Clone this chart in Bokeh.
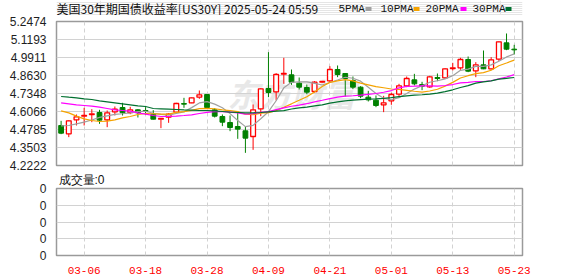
from bokeh.plotting import figure
from bokeh.models import ColumnDataSource, Range1d, FixedTicker, PrintfTickFormatter, Title
from bokeh.core.properties import value
from bokeh.layouts import column
from bokeh.embed import file_html
from bokeh.resources import INLINE

# ---------------- data ----------------
dates = [
    "03-03", "03-04", "03-05", "03-06", "03-07",
    "03-10", "03-11", "03-12", "03-13", "03-14",
    "03-17", "03-18", "03-19", "03-20", "03-21",
    "03-24", "03-25", "03-26", "03-27", "03-28",
    "03-31", "04-01", "04-02", "04-03", "04-04",
    "04-07", "04-08", "04-09", "04-10", "04-11",
    "04-14", "04-15", "04-16", "04-17", "04-18",
    "04-21", "04-22", "04-23", "04-24", "04-25",
    "04-28", "04-29", "04-30", "05-01", "05-02",
    "05-05", "05-06", "05-07", "05-08", "05-09",
    "05-12", "05-13", "05-14", "05-15", "05-16",
    "05-19", "05-20", "05-21", "05-22", "05-23",
]
opens = [4.5070, 4.4477, 4.5473, 4.5734, 4.5853, 4.5996, 4.5473, 4.6043, 4.6352, 4.5996,
         4.6185, 4.6138, 4.5877, 4.5521, 4.5663, 4.6020, 4.6637, 4.6684, 4.7087, 4.7277,
         4.6185, 4.5711, 4.5284, 4.4999, 4.4691, 4.4287, 4.6257, 4.7704, 4.7467, 4.8725,
         4.8677, 4.8084, 4.7775, 4.7491, 4.8155, 4.8250, 4.9057, 4.8772, 4.8274, 4.7799,
         4.7087, 4.6874, 4.6542, 4.6826, 4.7301, 4.7894, 4.8321, 4.7989, 4.7823, 4.8487,
         4.8463, 4.9128, 4.9175, 4.9769, 4.8962, 4.9389, 4.9104, 4.9793, 5.0955, 5.0504]
highs = [4.5402, 4.5450, 4.5853, 4.6328, 4.6233, 4.6185, 4.6138, 4.6423, 4.6684, 4.6399,
         4.6233, 4.6375, 4.6162, 4.5592, 4.5948, 4.6684, 4.7040, 4.7063, 4.7562, 4.7301,
         4.6304, 4.5853, 4.5782, 4.6090, 4.4999, 4.6565, 4.7728, 5.0291, 4.8796, 4.9888,
         4.9057, 4.8487, 4.7989, 4.8226, 4.8226, 4.9294, 4.9342, 4.8796, 4.8558, 4.7870,
         4.7538, 4.7206, 4.7182, 4.7396, 4.8036, 4.8558, 4.8748, 4.8179, 4.8606, 4.8772,
         4.9152, 4.9532, 4.9888, 4.9982, 4.9579, 5.0409, 4.9935, 5.1050, 5.1620, 5.0813]
lows = [4.4453, 4.4240, 4.5070, 4.5070, 4.5307, 4.5189, 4.4951, 4.5782, 4.5782, 4.5877,
        4.5640, 4.5830, 4.5497, 4.4880, 4.5260, 4.5972, 4.6328, 4.6660, 4.6969, 4.6257,
        4.5640, 4.5023, 4.4667, 4.4120, 4.3124, 4.3338, 4.5734, 4.7087, 4.6850, 4.8036,
        4.7965, 4.7633, 4.7301, 4.7420, 4.8131, 4.8179, 4.8511, 4.7135, 4.7657, 4.7016,
        4.6780, 4.6375, 4.6020, 4.6542, 4.7110, 4.7799, 4.7918, 4.7586, 4.7752, 4.8226,
        4.8392, 4.8986, 4.9033, 4.8867, 4.8511, 4.9081, 4.9057, 4.9674, 5.0433, 5.0125]
closes = [4.4524, 4.5402, 4.5687, 4.5782, 4.5901, 4.5450, 4.5972, 4.6233, 4.5972, 4.6185,
          4.5972, 4.6067, 4.5521, 4.5568, 4.5877, 4.6637, 4.6589, 4.7040, 4.7253, 4.6352,
          4.5734, 4.5307, 4.4928, 4.4810, 4.4169, 4.6185, 4.7680, 4.7420, 4.8701, 4.8772,
          4.8155, 4.7799, 4.7443, 4.8155, 4.8202, 4.9057, 4.8701, 4.8416, 4.7799, 4.7158,
          4.6897, 4.6494, 4.6684, 4.7277, 4.7894, 4.8416, 4.8036, 4.7870, 4.8535, 4.8416,
          4.9104, 4.9175, 4.9769, 4.8938, 4.9389, 4.9104, 4.9745, 5.1027, 5.0504, 5.0457]
volumes = [0] * 60

# moving-average values before enough closes are on screen
ma5_head = [4.5047, 4.5070, 4.5189, 4.5307]
ma10_head = [4.6115, 4.5972, 4.5734, 4.5545, 4.5426, 4.5355, 4.5379, 4.5474, 4.5616]
ma20_head = [4.6684, 4.6613, 4.6541, 4.6494, 4.6446, 4.6375, 4.6280, 4.6185, 4.6138, 4.6090,
             4.5972, 4.5877, 4.5782, 4.5711, 4.5711, 4.5735, 4.5782, 4.5830, 4.5924]
ma30_head = [4.7135, 4.7087, 4.7040, 4.6969, 4.6921, 4.6826, 4.6755, 4.6684, 4.6613, 4.6541,
             4.6470, 4.6423, 4.6280, 4.6257, 4.6233, 4.6209, 4.6185, 4.6162, 4.6138, 4.6138,
             4.6114, 4.6067, 4.6019, 4.5996, 4.5972, 4.5972, 4.5996, 4.6043, 4.6090]

y_tick_labels = ["4.2222", "4.3503", "4.4785", "4.6066", "4.7348", "4.8630", "4.9911", "5.1193", "5.2474"]
x_tick_labels = ["03-06", "03-18", "03-28", "04-09", "04-21", "05-01", "05-13", "05-23"]

title_text = "美国30年期国债收益率[US30Y] 2025-05-24 05:59"
volume_title = "成交量:0"
ma_names = ["5PMA", "10PMA", "20PMA", "30PMA"]
ma_colors = ["#a0a0a0", "#f5a300", "#ff00ff", "#00702f"]


def moving_avg(vals, n, head):
    out = list(head)
    for i in range(len(head), len(vals)):
        out.append(sum(vals[i - n + 1:i + 1]) / n)
    return out


ma_lists = [moving_avg(closes, 5, ma5_head), moving_avg(closes, 10, ma10_head),
            moving_avg(closes, 20, ma20_head), moving_avg(closes, 30, ma30_head)]

xs = list(range(len(dates)))
x_ticks = [dates.index(t) for t in x_tick_labels]
y_ticks = [float(t) for t in y_tick_labels]

UP = "#ff0000"
DOWN = "#008000"
GRID = "#d2d2d2"
BORDER = "#9a9a9a"

up = dict(x=[], h=[], l=[], top=[], bottom=[])
dn = dict(x=[], h=[], l=[], top=[], bottom=[])
for i in xs:
    o, h, l, c = opens[i], highs[i], lows[i], closes[i]
    d = up if c >= o else dn
    lo_b, hi_b = min(o, c), max(o, c)
    if hi_b - lo_b < 0.0012:
        hi_b = lo_b + 0.0012
    d["x"].append(i)
    d["h"].append(h)
    d["l"].append(l)
    d["top"].append(hi_b)
    d["bottom"].append(lo_b)
src_up = ColumnDataSource(up)
src_dn = ColumnDataSource(dn)

x_range = Range1d(-0.6, 60.08)

# ---------------- header strip (title + MA legend), page-pixel coordinates ----------------
# (the column layout aligns this strip's frame with the plot frames below: x 56..522)
hdr = figure(width=578, height=15, x_range=Range1d(56, 522), y_range=Range1d(15, 0),
             output_backend="svg", toolbar_location=None,
             x_axis_location=None, y_axis_location=None, min_border=0)
hdr.outline_line_color = None
hdr.background_fill_color = "white"
hdr.border_fill_color = "white"
hdr.text(x=[56], y=[7.5], text=[title_text], text_font=value("Noto Sans CJK SC"),
         text_font_size="12px", text_color="#111111", text_baseline="middle", text_align="left")
leg_text_x = [338, 380, 425, 472]
leg_sq_x = [368, 416, 463, 508]
hdr.text(x=leg_text_x, y=[8] * 4, text=ma_names, text_font=value("Liberation Mono"),
         text_font_size="11px", text_color="#111111", text_baseline="middle", text_align="left")
hdr.rect(x=leg_sq_x, y=[8.5] * 4, width=6, height=4, fill_color=ma_colors, line_color=None)

# ---------------- main (price) panel ----------------
p = figure(width=578, height=157, x_range=x_range, y_range=Range1d(4.2222, 5.2474),
           output_backend="svg", toolbar_location=None,
           min_border_left=56, min_border_right=56, min_border_top=6, min_border_bottom=7)
p.background_fill_color = "white"
p.border_fill_color = "white"
p.outline_line_color = BORDER
p.outline_line_width = 1.5
p.xaxis.visible = False
p.yaxis.ticker = FixedTicker(ticks=y_ticks)
p.yaxis.formatter = PrintfTickFormatter(format="%.4f")
p.yaxis.axis_line_color = None
p.yaxis.major_tick_line_color = None
p.yaxis.minor_tick_line_color = None
p.yaxis.major_label_standoff = 4
p.yaxis.major_label_text_font = "Liberation Sans"
p.yaxis.major_label_text_font_size = "12px"
p.yaxis.major_label_text_color = "#1e1e1e"
p.ygrid.grid_line_color = GRID
p.xgrid.ticker = FixedTicker(ticks=x_ticks)
p.xgrid.grid_line_color = GRID
p.xgrid.grid_line_dash = "4 3"

p.text(x=[30.0], y=[4.735], text=["东方财富"], text_font=value("Noto Sans CJK SC"),
       text_font_size="32px", text_font_style="bold italic", text_color="#e8e8e8",
       text_align="center", text_baseline="middle", level="underlay")

p.segment(x0="x", y0="h", x1="x", y1="l", source=src_dn, line_color=DOWN, line_width=1)
p.vbar(x="x", width=0.62, top="top", bottom="bottom", source=src_dn,
       fill_color=DOWN, line_color=DOWN, line_width=1)
p.segment(x0="x", y0="h", x1="x", y1="l", source=src_up, line_color=UP, line_width=1)
p.vbar(x="x", width=0.62, top="top", bottom="bottom", source=src_up,
       fill_color="white", line_color=UP, line_width=1.3)

for vals, col in zip(ma_lists, ma_colors):
    p.line(xs, vals, line_color=col, line_width=1.2)

# ---------------- volume panel ----------------
v = figure(width=578, height=104, x_range=x_range, y_range=Range1d(0, 4),
           output_backend="svg", toolbar_location=None,
           min_border_left=56, min_border_right=56, min_border_top=14, min_border_bottom=21)
v.add_layout(Title(text=volume_title, align="left", offset=2, standoff=0, vertical_align="top",
                   text_font="Liberation Sans", text_font_size="12px",
                   text_font_style="normal", text_color="#111111"), "above")
v.background_fill_color = "white"
v.border_fill_color = "white"
v.outline_line_color = BORDER
v.outline_line_width = 1.5
v.vbar(x=xs, top=volumes, bottom=0, width=0.62, fill_color=DOWN, line_color=None)
v.yaxis.ticker = FixedTicker(ticks=[0, 1, 2, 3, 4])
v.yaxis.major_label_overrides = {0: "0", 1: "0", 2: "0", 3: "0", 4: "0"}
v.yaxis.axis_line_color = None
v.yaxis.major_tick_line_color = None
v.yaxis.minor_tick_line_color = None
v.yaxis.major_label_standoff = 4
v.yaxis.major_label_text_font = "Liberation Sans"
v.yaxis.major_label_text_font_size = "12px"
v.yaxis.major_label_text_color = "#1e1e1e"
v.ygrid.grid_line_color = GRID
v.xaxis.ticker = FixedTicker(ticks=x_ticks)
v.xaxis.major_label_overrides = {t: s for t, s in zip(x_ticks, x_tick_labels)}
v.xaxis.axis_line_color = None
v.xaxis.major_tick_line_color = None
v.xaxis.minor_tick_line_color = None
v.xaxis.major_label_standoff = 5
v.xaxis.major_label_text_font = "Liberation Mono"
v.xaxis.major_label_text_font_size = "11px"
v.xaxis.major_label_text_color = "#ff0000"
v.xgrid.ticker = FixedTicker(ticks=x_ticks)
v.xgrid.grid_line_color = GRID
v.xgrid.grid_line_dash = "4 3"

layout = column(hdr, p, v, spacing=0)
open("out.html", "w").write(file_html(layout, INLINE))
